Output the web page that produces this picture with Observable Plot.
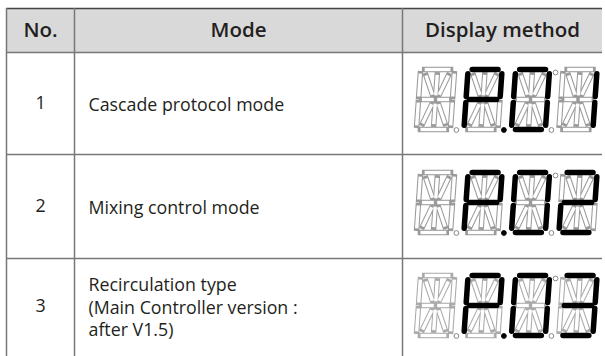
<!DOCTYPE html>
<html>
<head>
<meta charset="utf-8">
<script src="https://cdn.jsdelivr.net/npm/d3@7"></script>
<script src="https://cdn.jsdelivr.net/npm/@observablehq/plot@0.6"></script>
<style>
  html, body { margin: 0; padding: 0; background: #fff; }
  #chart svg { display: block; }
</style>
</head>
<body>
<div id="chart"></div>
<script>
// ---- data ----
const headers = ["No.", "Mode", "Display method"];
const numbers = ["1", "2", "3"];
const modes = [
  "Cascade protocol mode",
  "Mixing control mode",
  "Recirculation type\n(Main Controller version :\nafter V1.5)"
];
const displays = ["P.01", "P.02", "P.03"];
const dashedRows = [false, false, true];

// ---- layout ----
const W = 605, H = 356;
const colEdges = [6, 74, 402, 602];
const rowEdges = [8, 52, 154, 258, 356];
const headerY = 30;
const textY = [103, 206, 306];
const dispY = [99, 202, 305];
const modeX = 88;
const digitX0 = 418, digitPitch = 47.5, digitW = 34, digitH = 60, slant = 0.07;

// 14-segment glyph template (unit coords, v down)
const SEG = {
  a: [0.12, 0, 0.88, 0], b: [1, 0.07, 1, 0.45], c: [1, 0.55, 1, 0.93],
  d: [0.12, 1, 0.88, 1], e: [0, 0.55, 0, 0.93], f: [0, 0.07, 0, 0.45],
  g1: [0.1, 0.5, 0.45, 0.5], g2: [0.55, 0.5, 0.9, 0.5],
  h: [0.17, 0.1, 0.4, 0.42], i: [0.5, 0.09, 0.5, 0.43], j: [0.83, 0.1, 0.6, 0.42],
  k: [0.4, 0.58, 0.17, 0.9], l: [0.5, 0.57, 0.5, 0.91], m: [0.6, 0.58, 0.83, 0.9]
};
const CHARMAP = {
  " ": [], "P": ["a","b","f","e","g1","g2"], "0": ["a","b","c","d","e","f"],
  "1": ["b","c"], "2": ["a","b","g1","g2","e","d"], "3": ["a","b","g1","g2","c","d"]
};

const segs = [], dots = [];
displays.forEach((code, r) => {
  const chars = [], dotAfter = [];
  for (const ch of code) {
    if (ch === ".") dotAfter.push(chars.length - 1);
    else chars.push(ch);
  }
  while (chars.length < 4) { chars.unshift(" "); dotAfter.forEach((d, k) => dotAfter[k] = d + 1); }
  chars.forEach((ch, ci) => {
    const x0 = digitX0 + ci * digitPitch;
    const y0 = dispY[r] - digitH / 2;
    const tr = (u, v) => [x0 + u * digitW + slant * digitH * (0.5 - v), y0 + v * digitH];
    for (const [name, s] of Object.entries(SEG)) {
      const [xa, ya] = tr(s[0], s[1]);
      const [xb, yb] = tr(s[2], s[3]);
      segs.push({row: r, xa, ya, xb, yb, on: CHARMAP[ch].includes(name), dashed: dashedRows[r]});
    }
    if (ci < 3) {
      const [dx, dy] = tr(1, 1);
      dots.push({x: dx + 6, y: dy + 0.5, on: dotAfter.includes(ci)});
    }
    if (ci === 2) {
      const [dx, dy] = tr(1, 0);
      dots.push({x: dx + 6, y: dy + 3, on: false});
    }
  });
});

const headerCells = headers.map((h, i) => ({h, x: (colEdges[i] + colEdges[i + 1]) / 2}));
const numRows = numbers.map((n, i) => ({n, x: (colEdges[0] + colEdges[1]) / 2, y: textY[i]}));
const modeRows = modes.map((m, i) => ({m, x: modeX, y: textY[i]}));

const font = "Open Sans";
const inactive = segs.filter(d => !d.on);
const active = segs.filter(d => d.on);

const chart = Plot.plot({
  width: W, height: H,
  margin: 0,
  x: {domain: [0, W], range: [0, W], axis: null},
  y: {domain: [0, H], range: [0, H], axis: null},
  marks: [
    Plot.rect([0], {x1: colEdges[0], x2: colEdges[3], y1: rowEdges[0], y2: rowEdges[1], fill: "#d9d9d9"}),
    Plot.ruleY(rowEdges.slice(0, 4), {x1: colEdges[0], x2: colEdges[3], y: d => d, stroke: (d, i) => i === 0 ? "#444" : "#777", strokeWidth: 1.5}),
    Plot.ruleX(colEdges.slice(0, 3), {x: d => d, y1: rowEdges[0], y2: rowEdges[4], stroke: "#777", strokeWidth: 1.5}),
    Plot.text(headerCells, {x: "x", y: headerY, text: "h", fontFamily: font, fontWeight: 600, fontSize: 20.5, fill: "#231f20"}),
    Plot.text(numRows, {x: "x", y: "y", text: "n", fontFamily: font, fontSize: 17.8, fill: "#231f20"}),
    Plot.text(modeRows, {x: "x", y: "y", text: "m", textAnchor: "start", lineHeight: 1.27, fontFamily: font, fontSize: 17.8, fill: "#231f20"}),
    // inactive segments: gray outline via thick gray + thinner white
    Plot.link(inactive, {x1: "xa", y1: "ya", x2: "xb", y2: "yb", stroke: d => d.dashed ? "#aaa" : "#9a9a9a", strokeWidth: 5.5, strokeLinecap: "square", strokeDasharray: d => d.dashed ? "2.5,2" : null}),
    Plot.link(inactive, {x1: "xa", y1: "ya", x2: "xb", y2: "yb", stroke: "#fff", strokeWidth: 3.4, strokeLinecap: "butt"}),
    Plot.link(active, {x1: "xa", y1: "ya", x2: "xb", y2: "yb", stroke: "#000", strokeWidth: 5.5, strokeLinecap: "round"}),
    Plot.dot(dots, {x: "x", y: "y", r: 2.4, stroke: d => d.on ? "#000" : "#888", fill: d => d.on ? "#000" : "#fff", strokeWidth: 1})
  ]
});
document.getElementById("chart").append(chart);
</script>
</body>
</html>
